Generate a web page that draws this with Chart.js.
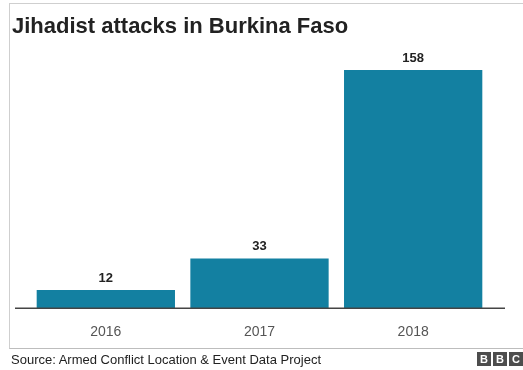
<!DOCTYPE html>
<html>
<head>
<meta charset="utf-8">
<script src="https://cdn.jsdelivr.net/npm/chart.js@4"></script>
<style>
  body { margin: 0; background: #fff; font-family: "Liberation Sans", Arial, sans-serif; }
  #wrap { position: relative; width: 523px; height: 370px; overflow: hidden; }
  #frame { position: absolute; left: 9px; top: 3px; width: 514px; height: 344px;
           border-top: 1px solid #cfcfcf; border-left: 1px solid #cfcfcf; border-bottom: 1px solid #bdbdbd; }
  #title { position: absolute; left: 12px; top: 13px; font-size: 22px; font-weight: bold; color: #222; white-space: nowrap; }
  #source { position: absolute; left: 11px; top: 352px; font-size: 13px; color: #222; white-space: nowrap; }
  #bbc { position: absolute; left: 477px; top: 352px; display: flex; gap: 2px; }
  #bbc span { width: 14px; height: 14px; background: #4d4d4d; color: #fff; font-size: 11px; font-weight: bold;
              line-height: 14px; text-align: center; }
  #chartBox { position: absolute; left: 0; top: 0; width: 523px; height: 359px; }
</style>
</head>
<body>
<div id="wrap">
  <div id="frame"></div>
  <div id="chartBox"><canvas id="myChart"></canvas></div>
  <div id="title">Jihadist attacks in Burkina Faso</div>
  <div id="source">Source: Armed Conflict Location &amp; Event Data Project</div>
  <div id="bbc"><span>B</span><span>B</span><span>C</span></div>
</div>
<script>
// Jihadist attacks per year

const years = ["2016", "2017", "2018"];
const attacks = [12, 33, 158];

// value labels over the bars
const valueLabels = {
    id: "valueLabels",
    afterDatasetsDraw(chart) {
        const ctx = chart.ctx;
        const meta = chart.getDatasetMeta(0);
        ctx.save();
        ctx.font = "bold 13px 'Liberation Sans', Arial, sans-serif";
        ctx.fillStyle = "#222";
        ctx.textAlign = "center";
        ctx.textBaseline = "middle";
        meta.data.forEach((bar, i) => {
            ctx.fillText(attacks[i], bar.x, bar.y - 12);
        });
        ctx.restore();
    }
};

// baseline that runs a bit past the bars
const baseLine = {
    id: "baseLine",
    afterDatasetsDraw(chart) {
        const ctx = chart.ctx;
        const area = chart.chartArea;
        ctx.save();
        ctx.strokeStyle = "#444";
        ctx.lineWidth = 1.5;
        ctx.beginPath();
        ctx.moveTo(15, area.bottom);
        ctx.lineTo(505, area.bottom);
        ctx.stroke();
        ctx.restore();
    }
};

const chart = document.getElementById("myChart");

new Chart(chart, {
    type: "bar",
    data: {
        labels: years,
        datasets: [{
            label: "Attacks",
            data: attacks,
            backgroundColor: "#1380A1",
            categoryPercentage: 1,
            barPercentage: 0.9
        }]
    },
    options: {
        responsive: true,
        maintainAspectRatio: false,
        animation: false,
        layout: { padding: { left: 29, right: 33, top: 52, bottom: 2 } },
        plugins: {
            legend: { display: false },
            tooltip: { enabled: false }
        },
        scales: {
            x: {
                grid: { display: false, drawTicks: false },
                border: { display: false },
                ticks: {
                    color: "#555",
                    padding: 16,
                    font: { family: "'Liberation Sans', Arial, sans-serif", size: 14 }
                }
            },
            y: {
                display: false,
                min: 0,
                max: 170
            }
        }
    },
    plugins: [valueLabels, baseLine]
});
</script>
</body>
</html>
